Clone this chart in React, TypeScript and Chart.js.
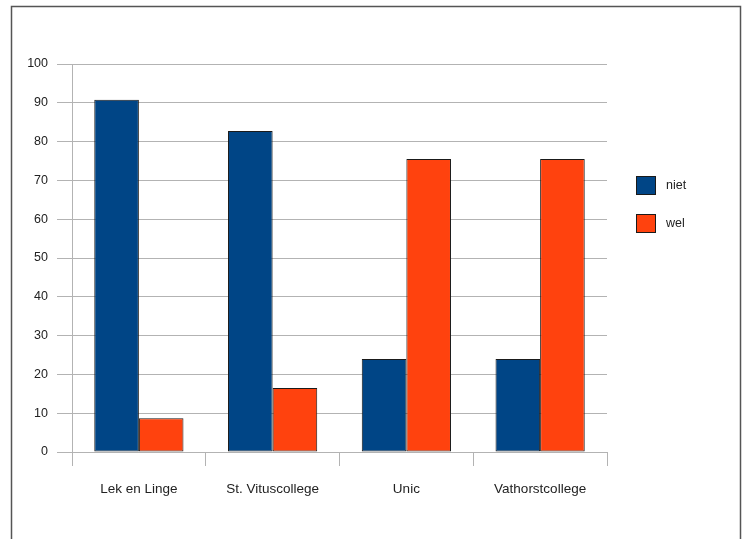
import React, { useEffect, useRef } from "react";
import { Chart, registerables } from "chart.js";

Chart.register(...registerables);

const categories = ["Lek en Linge", "St. Vituscollege", "Unic", "Vathorstcollege"];
const nietValues = [90.8, 82.7, 24, 24];
const welValues = [8.7, 16.5, 75.5, 75.5];
const seriesNames = ["niet", "wel"];
const yTicks = [0, 10, 20, 30, 40, 50, 60, 70, 80, 90, 100];

const FONT = "'Liberation Sans', Arial, sans-serif";
const GRID = "#b3b3b3";

const framePlugin = {
  id: "frame",
  beforeDraw(chart: any) {
    const ctx = chart.ctx;
    ctx.save();
    ctx.fillStyle = "#ffffff";
    ctx.fillRect(0, 0, chart.width, chart.height);
    ctx.strokeStyle = "#555555";
    ctx.lineWidth = 1.5;
    ctx.strokeRect(11.5, 6.5, 729, 600);
    ctx.restore();
  },
};

const legendPlugin = {
  id: "customLegend",
  afterDraw(chart: any) {
    const ctx = chart.ctx;
    ctx.save();
    const x = chart.chartArea.right + 29;
    let y = 176;
    chart.data.datasets.forEach((ds: any) => {
      ctx.fillStyle = ds.backgroundColor;
      ctx.fillRect(x, y, 20, 19);
      ctx.strokeStyle = "#1a1a1a";
      ctx.lineWidth = 1;
      ctx.strokeRect(x + 0.5, y + 0.5, 19, 18);
      ctx.fillStyle = "#222222";
      ctx.font = `12.5px ${FONT}`;
      ctx.textBaseline = "middle";
      ctx.textAlign = "left";
      ctx.fillText(ds.label, x + 30, y + 10);
      y += 38;
    });
    ctx.restore();
  },
};

export default function App() {
  const ref = useRef<HTMLCanvasElement>(null);
  useEffect(() => {
    document.body.style.margin = "0";
    const chart = new Chart(ref.current!, {
      type: "bar",
      data: {
        labels: categories,
        datasets: [
          {
            label: seriesNames[0],
            data: nietValues,
            backgroundColor: "#004586",
            borderColor: "#1a1a1a",
            borderWidth: 1,
            borderSkipped: false,
          },
          {
            label: seriesNames[1],
            data: welValues,
            backgroundColor: "#ff420e",
            borderColor: "#1a1a1a",
            borderWidth: 1,
            borderSkipped: false,
          },
        ],
      },
      options: {
        animation: false,
        responsive: false,
        layout: { padding: { left: 0, top: 64, right: 140, bottom: 0 } },
        plugins: { legend: { display: false }, tooltip: { enabled: false } },
        datasets: { bar: { categoryPercentage: 0.667, barPercentage: 1 } },
        scales: {
          x: {
            grid: {
              offset: true,
              color: (c: any) => (c.index === 0 || c.index === categories.length ? GRID : "rgba(0,0,0,0)"),
              tickColor: GRID,
              tickLength: 14,
              drawOnChartArea: true,
            },
            border: { color: GRID },
            ticks: { color: "#222", font: { family: FONT, size: 13.5 }, padding: 15 },
            afterFit: (s: any) => {
              s.height = 87;
            },
          },
          y: {
            min: 0,
            max: 100,
            afterBuildTicks: (s: any) => {
              s.ticks = yTicks.map((v) => ({ value: v }));
            },
            grid: { color: GRID, tickColor: GRID, tickLength: 15 },
            border: { color: GRID },
            ticks: { color: "#222", font: { family: FONT, size: 12.5 }, padding: 9 },
            afterFit: (s: any) => {
              s.width = 72;
            },
          },
        },
      },
      plugins: [framePlugin, legendPlugin],
    });
    return () => chart.destroy();
  }, []);
  return (
    <div style={{ width: 747, height: 539 }}>
      <canvas ref={ref} width={747} height={539} style={{ display: "block" }} />
    </div>
  );
}
